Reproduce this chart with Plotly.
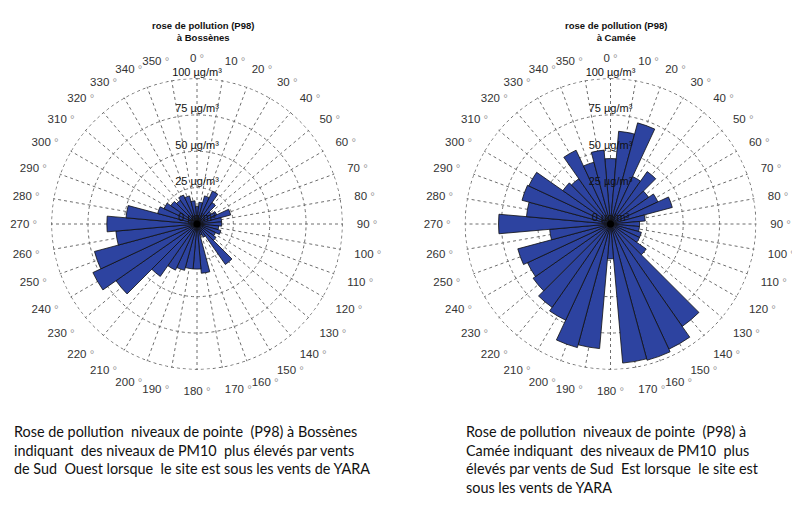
import plotly.graph_objects as go

# ---- data ----
directions = list(range(0, 360, 10))
dir_labels = [f"{d} <span style='color:#9a9a9a'>°</span>" for d in directions]

bossenes_p98 = [12, 15, 20, 25, 18, 12, 15, 24, 17, 17,
                15, 17, 14, 16, 34, 10, 8, 34, 31, 31,
                33, 35, 44, 68, 79, 73, 56, 62, 49, 28,
                25, 22, 20, 22, 20, 16]

camee_p98 = [45, 64, 72, 36, 44, 32, 36, 44, 24, 20,
             20, 22, 22, 30, 86, 95, 97, 96, 24, 86,
             88, 73, 70, 65, 63, 66, 42, 77, 58, 63,
             62, 40, 38, 56, 44, 51]

ring_values = [0, 25, 50, 75, 100]
ring_labels = [f"{v} µg/m³" for v in ring_values]

titles = ["rose de pollution (P98)<br>à Bossènes", "rose de pollution (P98)<br>à Camée"]
captions = [
    "Rose de pollution  niveaux de pointe  (P98) à Bossènes<br>"
    "indiquant  des niveaux de PM10  plus élevés par vents<br>"
    "de Sud  Ouest lorsque  le site est sous les vents de YARA",
    "Rose de pollution  niveaux de pointe  (P98) à<br>"
    "Camée indiquant  des niveaux de PM10  plus<br>"
    "élevés par vents de Sud  Est lorsque  le site est<br>"
    "sous les vents de YARA",
]

BAR_COLOR = "#2D43A0"
GRID = "#6e6e6e"
W, H = 800, 510

fig = go.Figure()

centers = [(194.5, 223), (608, 223)]
shift = (-5.5, -7)
radius_px = 146

outer_theta = list(range(0, 361, 2))

for i, (vals, pid) in enumerate([(bossenes_p98, "polar"), (camee_p98, "polar2")]):
    # outer dotted ring at the maximum ring value
    fig.add_trace(go.Scatterpolar(
        r=[max(ring_values)] * len(outer_theta), theta=outer_theta, mode="lines",
        line=dict(color=GRID, width=1, dash="dot"),
        subplot=pid, showlegend=False, hoverinfo="skip"))
    fig.add_trace(go.Barpolar(
        r=vals, theta=directions, width=[10] * len(directions),
        marker=dict(color=BAR_COLOR, line=dict(color="#101010", width=0.8)),
        subplot=pid, showlegend=False, hoverinfo="r+theta"))
    fig.add_trace(go.Scatterpolar(
        r=ring_values, theta=[0] * len(ring_values), mode="text",
        text=ring_labels, textposition="top center",
        textfont=dict(family="Liberation Sans, Arial", size=11, color="#111"),
        subplot=pid, showlegend=False, hoverinfo="skip"))
    fig.add_trace(go.Scatterpolar(
        r=[0], theta=[0], mode="markers",
        marker=dict(color="black", size=7),
        subplot=pid, showlegend=False, hoverinfo="skip"))

def polar_layout(cx, cy):
    cx += shift[0]
    cy += shift[1]
    x0 = (cx - radius_px) / W
    x1 = (cx + radius_px) / W
    yc = H - cy
    y0 = (yc - radius_px) / H
    y1 = (yc + radius_px) / H
    return dict(
        domain=dict(x=[x0, x1], y=[y0, y1]),
        bgcolor="white",
        radialaxis=dict(range=[0, 100.4], tickvals=[25, 50, 75, 100],
                        showticklabels=False, ticks="", showline=False,
                        gridcolor=GRID, griddash="dot", gridwidth=1),
        angularaxis=dict(rotation=90, direction="clockwise",
                         tickmode="array", tickvals=directions, ticktext=dir_labels,
                         tickfont=dict(family="Liberation Sans, Arial", size=11.5, color="#333"),
                         ticks="outside", ticklen=11, tickcolor="rgba(0,0,0,0)",
                         showline=False,
                         gridcolor=GRID, griddash="dot", gridwidth=1),
    )

fig.update_layout(
    width=W, height=H,
    margin=dict(l=0, r=0, t=0, b=0),
    paper_bgcolor="white", plot_bgcolor="white",
    polar=polar_layout(*centers[0]),
    polar2=polar_layout(*centers[1]),
    bargap=0,
)

for (cx, _), t in zip(centers, titles):
    fig.add_annotation(text=f"<b>{t}</b>", x=cx / W, y=1 - 10 / H, xref="paper", yref="paper",
                       xanchor="center", yanchor="top", showarrow=False,
                       font=dict(family="Liberation Sans, Arial", size=9.5, color="#111"))

for x_px, cap in zip([4, 456], captions):
    fig.add_annotation(text=cap, x=x_px / W, y=1 - 413 / H, xref="paper", yref="paper",
                       xanchor="left", yanchor="top", align="left", showarrow=False,
                       font=dict(family="Lato, Open Sans", size=14.4, color="#111"))

fig.write_html("out.html")
